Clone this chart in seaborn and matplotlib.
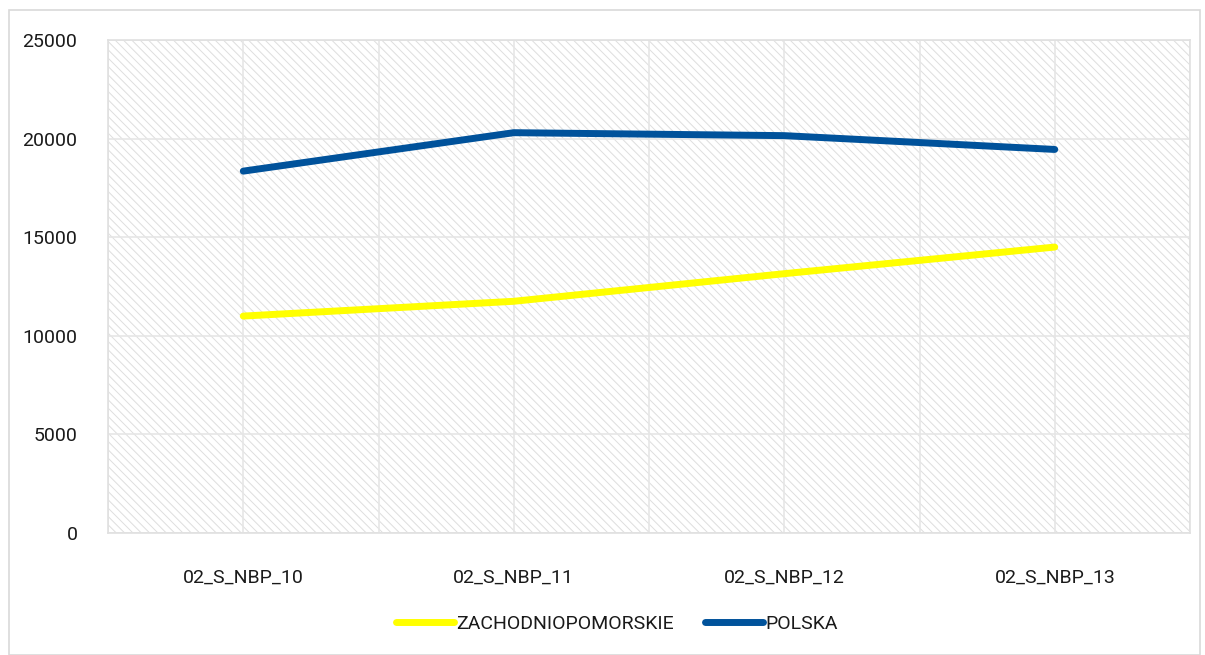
import pandas as pd
import matplotlib.pyplot as plt
import seaborn as sns
from matplotlib.patches import Rectangle

# Data
categories = ['02_S_NBP_10', '02_S_NBP_11', '02_S_NBP_12', '02_S_NBP_13']
zachodniopomorskie = [11000, 11750, 13150, 14500]
polska = [18350, 20300, 20150, 19450]
series_names = ['ZACHODNIOPOMORSKIE', 'POLSKA']
colors = ['#ffff00', '#00529b']

df = pd.DataFrame({
    'kategoria': categories * 2,
    'wartosc': zachodniopomorskie + polska,
    'seria': [series_names[0]] * 4 + [series_names[1]] * 4,
})
df['x'] = df['kategoria'].map({c: i for i, c in enumerate(categories)})

sns.set_style('white')
plt.rcParams['font.family'] = ['Roboto', 'DejaVu Sans']
plt.rcParams['hatch.linewidth'] = 0.7
plt.rcParams['hatch.color'] = '#dedede'

fig = plt.figure(figsize=(12.05, 6.55), dpi=100)
ax = fig.add_axes([108 / 1205, 122 / 655, 1082 / 1205, 493 / 655])

# outer frame
fig.patches.append(Rectangle((9 / 1205, 0), 1191 / 1205, 645 / 655, transform=fig.transFigure,
                             fill=False, edgecolor='#d9d9d9', linewidth=1.2, zorder=0))

# hatched plot background
ax.add_patch(Rectangle((0, 0), 1, 1, transform=ax.transAxes, facecolor='white',
                       hatch='\\\\\\\\', edgecolor='#dedede', linewidth=0, zorder=0))

sns.lineplot(data=df, x='x', y='wartosc', hue='seria', palette=colors,
             linewidth=5, ax=ax, legend=False, zorder=3)
for line in ax.get_lines():
    line.set_solid_capstyle('round')

ax.set_xlim(-0.5, 3.5)
ax.set_ylim(0, 25000)
ax.set_xticks(range(len(categories)))
ax.set_xticklabels(categories)
ax.set_xticks([i - 0.5 for i in range(len(categories) + 1)], minor=True)
ax.set_yticks(range(0, 25001, 5000))
ax.grid(True, which='both', axis='x', color='#e6e6e6', linewidth=1.2, zorder=1)
ax.grid(True, which='major', axis='y', color='#e6e6e6', linewidth=1.2, zorder=1)
ax.tick_params(axis='both', which='both', length=0, labelsize=14, colors='#1a1a1a')
ax.tick_params(axis='x', pad=26)
ax.tick_params(axis='y', pad=22)
ax.set_xlabel('')
ax.set_ylabel('')
for side, sp in ax.spines.items():
    sp.set_color('#e0e0e0')
    sp.set_linewidth(1.2)

handles = [plt.Line2D([0], [0], color=c, linewidth=5, solid_capstyle='round') for c in colors]
leg = ax.legend(handles, series_names, loc='center', bbox_to_anchor=(0.47, -0.185), ncol=2,
                frameon=False, fontsize=14, handlelength=3, handletextpad=0.1, columnspacing=1.6)
for t in leg.get_texts():
    t.set_color('#1a1a1a')

fig.savefig('out.png', dpi=100)
